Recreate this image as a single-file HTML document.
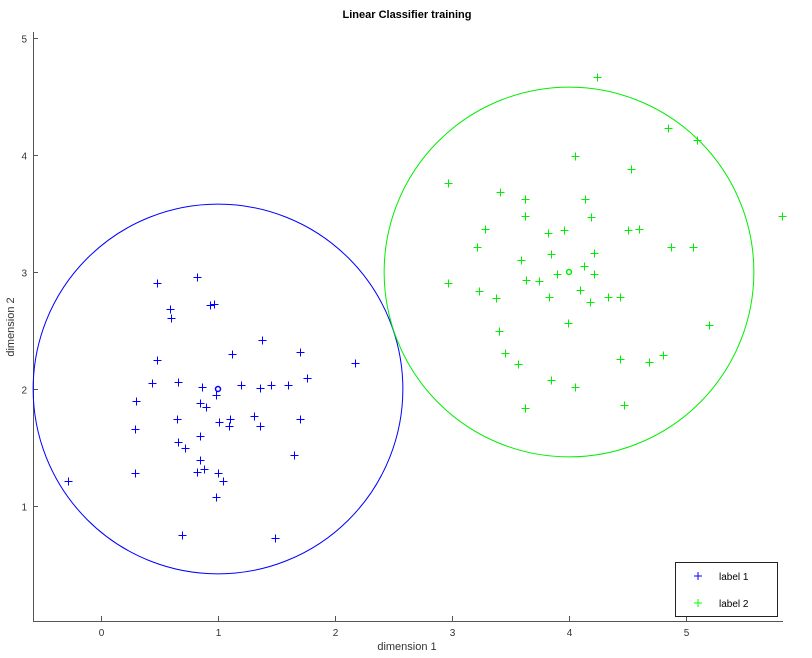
<!DOCTYPE html>
<html><head><meta charset="utf-8"><style>
body{margin:0;background:#fff;}
svg text{font-family:"Liberation Sans","DejaVu Sans",sans-serif;}
</style></head><body>
<svg id="c" width="812" height="653" xmlns="http://www.w3.org/2000/svg">
<text x="407" y="18" text-anchor="middle" font-size="11" font-weight="bold">Linear Classifier training</text>
<g id="axes"></g>
<g id="marks"></g>
<text x="407" y="650" text-anchor="middle" font-size="11" fill="#333">dimension 1</text>
<text transform="translate(14,327) rotate(-90)" text-anchor="middle" font-size="11" fill="#333">dimension 2</text>
<g>
<rect x="675.5" y="562.5" width="102" height="54" fill="#fff" stroke="#222"/>
<g><path d="M694 576h8M698 572v8" stroke="#00f" stroke-width="1"/><text x="719" y="580" font-size="10">label 1</text></g>
<g><path d="M694 603h8M698 599v8" stroke="#0f0" stroke-width="1"/><text x="719" y="607" font-size="10">label 2</text></g>
</g>
</svg>
<script>
const xTicks=[0,1,2,3,4,5];
const yTicks=[1,2,3,4,5];
const label1X=[0.48,0.82,0.59,0.60,0.93,0.97,1.38,0.48,1.12,1.70,2.17,1.76,0.44,0.66,0.86,0.98,1.36,1.20,1.45,1.60,0.30,0.29,0.65,0.90,1.01,1.10,1.09,1.31,1.36,1.70,1.65,0.66,0.72,0.85,0.82,0.85,0.88,1.00,1.04,0.98,0.29,-0.28,0.69,1.49,0.85];
const label1Y=[2.91,2.96,2.68,2.61,2.72,2.73,2.42,2.25,2.30,2.32,2.22,2.09,2.05,2.06,2.02,1.95,2.01,2.03,2.03,2.03,1.90,1.66,1.74,1.85,1.72,1.74,1.68,1.77,1.68,1.74,1.44,1.55,1.50,1.88,1.29,1.39,1.32,1.28,1.21,1.08,1.28,1.21,0.75,0.73,1.60];
const label2X=[4.24,4.85,5.09,4.05,4.53,2.97,3.41,4.14,3.62,3.62,4.19,3.28,3.82,3.96,4.50,4.60,3.21,4.87,5.06,5.82,3.85,3.59,4.21,2.97,3.23,3.63,3.74,3.90,4.21,4.13,3.83,4.09,4.18,4.33,4.44,3.38,3.99,3.40,5.20,3.45,3.56,4.44,4.68,4.80,3.85,4.05,3.62,4.47];
const label2Y=[4.67,4.23,4.13,3.99,3.88,3.76,3.68,3.62,3.62,3.48,3.47,3.37,3.33,3.36,3.36,3.37,3.21,3.21,3.21,3.48,3.15,3.10,3.16,2.91,2.84,2.93,2.92,2.98,2.98,3.05,2.79,2.85,2.74,2.79,2.79,2.78,2.56,2.50,2.55,2.31,2.21,2.26,2.23,2.29,2.08,2.02,1.84,1.86];
const centers=[[1,2],[4,3]];
const radius=[1.58,1.58];
const colors=['#0000ff','#00ee00'];
const sx=v=>101+117*v, sy=v=>272-117*(v-3);
const NS='http://www.w3.org/2000/svg';
const ax=document.getElementById('axes'), mk=document.getElementById('marks');
function el(t,a,p){const e=document.createElementNS(NS,t);for(const k in a)e.setAttribute(k,a[k]);p.appendChild(e);return e;}
const xl=el('line',{x1:33,y1:621.5,x2:783,y2:621.5,stroke:'#555'},ax);


const yl=el('line',{x1:33.5,y1:32,x2:33.5,y2:621,stroke:'#555'},ax);


xTicks.forEach(v=>{const x=Math.round(sx(v))+0.5;
 el('line',{x1:x,y1:621,x2:x,y2:616,stroke:'#555'},ax);
 const t=el('text',{x:x,y:636,'text-anchor':'middle','font-size':10,fill:'#333'},ax);t.textContent=v;
 
 });
yTicks.forEach(v=>{const y=Math.round(sy(v))+0.5;
 el('line',{x1:33,y1:y,x2:38,y2:y,stroke:'#555'},ax);
 const t=el('text',{x:27,y:y+4,'text-anchor':'end','font-size':10,fill:'#333'},ax);t.textContent=v;
 
 });
centers.forEach((c,i)=>{
 const ci=el('circle',{cx:sx(c[0]),cy:sy(c[1]),r:radius[i]*117,fill:'none',stroke:colors[i],'stroke-width':1},mk);
 
 
 const o=el('circle',{cx:sx(c[0]),cy:sy(c[1]),r:2.5,fill:'none',stroke:colors[i],'stroke-width':1.5},mk);
 
 });
function plus(xs,ys,col,name){xs.forEach((x,i)=>{const px=Math.round(sx(x))+0.5,py=Math.round(sy(ys[i]))+0.5;
 const p=el('path',{d:`M${px-4} ${py}h8M${px} ${py-4}v8`,stroke:col,'stroke-width':1},mk);
 
 });}
plus(label1X,label1Y,colors[0],'point-label-1');
plus(label2X,label2Y,colors[1],'point-label-2');
</script>
</body></html>
